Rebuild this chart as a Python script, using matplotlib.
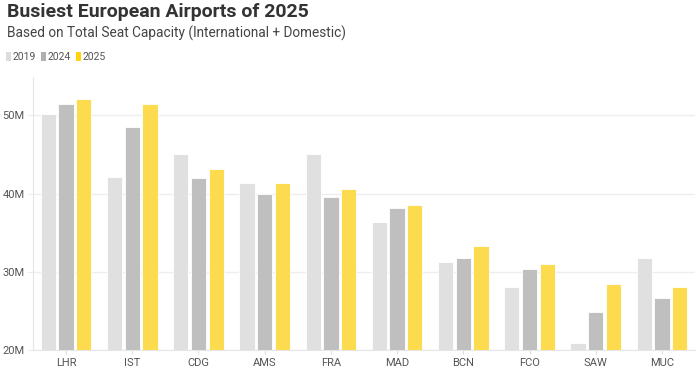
import matplotlib.pyplot as plt
import numpy as np
from matplotlib.patches import Rectangle
from matplotlib.ticker import FuncFormatter

airports = ["LHR", "IST", "CDG", "AMS", "FRA", "MAD", "BCN", "FCO", "SAW", "MUC"]
seats_2019 = [50.2, 42.1, 45.0, 41.3, 45.1, 36.3, 31.3, 28.0, 20.9, 31.8]
seats_2024 = [51.5, 48.5, 42.0, 40.0, 39.6, 38.1, 31.8, 30.4, 24.8, 26.7]
seats_2025 = [52.1, 51.5, 43.1, 41.3, 40.6, 38.5, 33.3, 31.0, 28.5, 28.0]
years = ["2019", "2024", "2025"]
colores = ["#e0e0e0", "#bfbfbf", "#fddb4f"]
colores_leyenda = ["#dcdcdc", "#b0b0b0", "#ffd20a"]

plt.rcParams["font.family"] = ["Roboto", "DejaVu Sans"]

W, H = 700, 370
fig = plt.figure(figsize=(7, 3.7), dpi=100)
ax = fig.add_axes([0.047, 0.054, 0.946, 0.738])

x = np.arange(len(airports))
ancho = 0.23
paso = 0.267
for i, (vals, color) in enumerate(zip([seats_2019, seats_2024, seats_2025], colores)):
    ax.bar(x + (i - 1) * paso, np.array(vals) - 20, bottom=20, width=ancho,
           color=color, edgecolor="white", linewidth=0.6, zorder=3)

ax.set_xlim(-0.5, len(airports) - 0.5)
ax.set_ylim(20, 54.9)
ax.set_yticks([20, 30, 40, 50])
ax.yaxis.set_major_formatter(FuncFormatter(lambda v, p: f"{int(v)}M"))
ax.set_xticks(x)
ax.set_xticklabels(airports)
ax.tick_params(axis="y", labelsize=8, colors="#555555", length=4, color="#eeeeee", pad=2)
ax.tick_params(axis="x", labelsize=8, colors="#555555", length=3, color="#dddddd", pad=3)
ax.grid(True, axis="y", color="#eeeeee", linewidth=1, zorder=0)
for s in ["top", "right"]:
    ax.spines[s].set_visible(False)
for s in ["left", "bottom"]:
    ax.spines[s].set_color("#e6e6e6")

fig.text(7 / W, 1 - 12 / H, "Busiest European Airports of 2025", fontsize=14,
         fontweight="bold", color="#333333", va="center", ha="left")
fig.text(7 / W, 1 - 33 / H, "Based on Total Seat Capacity (International + Domestic)",
         fontsize=9.8, color="#444444", va="center", ha="left")

# leyenda manual
x_cuadro = [6, 41, 76]
for xc, year, color in zip(x_cuadro, years, colores_leyenda):
    fig.add_artist(Rectangle((xc / W, 1 - 61 / H), 5 / W, 9 / H,
                             transform=fig.transFigure, color=color, lw=0))
    fig.text((xc + 7) / W, 1 - 56.5 / H, year, fontsize=7.5, color="#555555",
             va="center", ha="left")

plt.savefig("out.png", dpi=100)
plt.close()
